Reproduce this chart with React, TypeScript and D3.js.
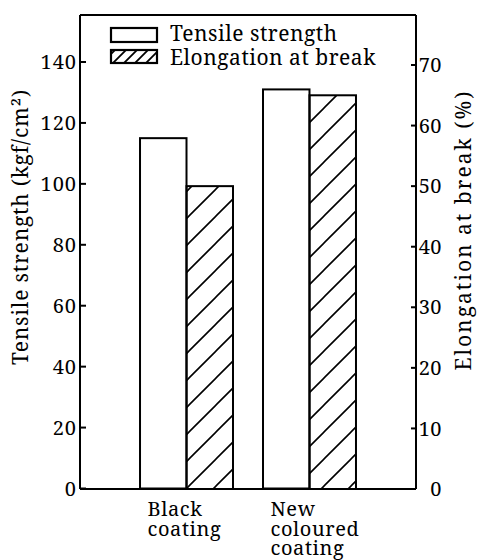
import React from "react";
import * as d3 from "d3";

const categories = [["Black", "coating"], ["New", "coloured", "coating"]];
const categoryKeys = ["Black coating", "New coloured coating"];
const tensileStrength = [115, 131];
const elongationAtBreak = [50, 65];
const leftTicks = [0, 20, 40, 60, 80, 100, 120, 140];
const rightTicks = [0, 10, 20, 30, 40, 50, 60, 70];
const seriesNames = ["Tensile strength", "Elongation at break"];

const W = 477;
const H = 560;
const plot = { left: 80, right: 416, top: 15, bottom: 489 };
const FONT = "'Noto Serif', 'Liberation Serif', serif";

export default function App() {
  const yLeft = d3.scaleLinear().domain([0, 140]).range([488.5, 62]);
  const yRight = d3.scaleLinear().domain([0, 70]).range([489, 65]);
  const x0 = d3
    .scaleBand<string>()
    .domain(categoryKeys)
    .range([plot.left, plot.right])
    .paddingInner(0.244)
    .paddingOuter(0.488);
  const x1 = d3
    .scaleBand<string>()
    .domain(["tensile", "elong"])
    .range([0, x0.bandwidth()]);

  return (
    <svg
      width={W}
      height={H}
      style={{ position: "absolute", left: 0, top: 0, background: "#fff", fontFamily: FONT }}
    >
      <defs>
        <pattern id="hatch" patternUnits="userSpaceOnUse" width={27} height={27}>
          <path
            d="M0,27 L27,0 M-4,4 L4,-4 M23,31 L31,23"
            stroke="#000"
            strokeWidth={1.6}
          />
        </pattern>
        <pattern id="hatchSmall" patternUnits="userSpaceOnUse" width={11} height={11}>
          <path
            d="M0,11 L11,0 M-3,3 L3,-3 M8,14 L14,8"
            stroke="#000"
            strokeWidth={1.8}
          />
        </pattern>
      </defs>
      <rect x={0} y={0} width={W} height={H} fill="#fff" />

      {/* bars */}
      {categoryKeys.map((c, i) => {
        const gx = x0(c)!;
        return (
          <g key={c}>
            <rect
              x={gx + x1("tensile")!}
              y={yLeft(tensileStrength[i])}
              width={x1.bandwidth()}
              height={yLeft(0) - yLeft(tensileStrength[i])}
              fill="#fff"
              stroke="#000"
              strokeWidth={2}
            />
            <rect
              x={gx + x1("elong")!}
              y={yRight(elongationAtBreak[i])}
              width={x1.bandwidth()}
              height={yRight(0) - yRight(elongationAtBreak[i])}
              fill="url(#hatch)"
              stroke="#000"
              strokeWidth={2}
            />
          </g>
        );
      })}

      {/* frame */}
      <line x1={plot.left} x2={plot.right} y1={plot.top} y2={plot.top} stroke="#000" strokeWidth={2} />
      <line x1={plot.left} x2={plot.right} y1={489} y2={489} stroke="#000" strokeWidth={2} />
      <line x1={plot.left} x2={plot.left} y1={plot.top} y2={489} stroke="#000" strokeWidth={2} />
      <line x1={plot.right} x2={plot.right} y1={plot.top} y2={489} stroke="#000" strokeWidth={2} />

      {/* left ticks */}
      {leftTicks.map((t) => (
        <g key={"l" + t}>
          <line x1={plot.left} x2={plot.left + 6} y1={yLeft(t)} y2={yLeft(t)} stroke="#000" strokeWidth={2} />
          <text x={77} y={yLeft(t)} dy="0.36em" textAnchor="end" fontSize={20} letterSpacing={1}>
            {t}
          </text>
        </g>
      ))}

      {/* right ticks */}
      {rightTicks.map((t) => (
        <g key={"r" + t}>
          <line x1={plot.right - 5} x2={plot.right} y1={yRight(t)} y2={yRight(t)} stroke="#000" strokeWidth={2} />
          <text x={442} y={yRight(t)} dy="0.36em" textAnchor="end" fontSize={20} letterSpacing={0.5}>
            {t}
          </text>
        </g>
      ))}

      {/* axis titles */}
      <text
        transform="translate(28,227) rotate(-90)"
        textAnchor="middle"
        fontSize={21}
        letterSpacing={0.8}
      >
        Tensile strength (kgf/cm²)
      </text>
      <text
        transform="translate(471,230) rotate(-90)"
        textAnchor="middle"
        fontSize={21}
        letterSpacing={2}
      >
        Elongation at break (%)
      </text>

      {/* category labels */}
      {categories.map((lines, i) => {
        const cx = x0(categoryKeys[i])! + x0.bandwidth() / 2;
        return (
          <g key={i}>
            {lines.map((ln, j) => (
              <text key={j} x={cx - 39} y={516 + j * 19.5} fontSize={20} letterSpacing={0.6}>
                {ln}
              </text>
            ))}
          </g>
        );
      })}

      {/* legend */}
      <rect x={111} y={28} width={46} height={14} fill="#fff" stroke="#000" strokeWidth={2.2} />
      <text x={170} y={41} fontSize={21} letterSpacing={0.5}>
        {seriesNames[0]}
      </text>
      <rect x={111} y={50} width={46} height={13} fill="url(#hatchSmall)" stroke="#000" strokeWidth={2.2} />
      <text x={170} y={65} fontSize={21} letterSpacing={0.5}>
        {seriesNames[1]}
      </text>
    </svg>
  );
}
